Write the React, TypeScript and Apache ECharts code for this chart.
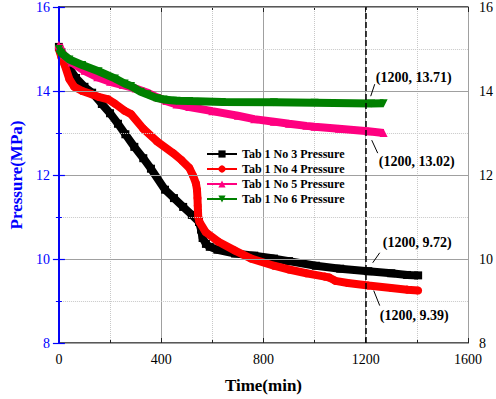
import React, { useEffect, useRef } from "react";
import * as echarts from "echarts";

const seriesNames = [
  "Tab 1 No 3 Pressure",
  "Tab 1 No 4 Pressure",
  "Tab 1 No 5 Pressure",
  "Tab 1 No 6 Pressure",
];
const seriesColors = ["#000000", "#ff0000", "#ff0080", "#008000"];
const seriesSymbols = ["rect", "circle", "triangle", "path://M0,0 L10,0 L5,9 Z"];

const no3Time = [0, 10, 20, 40, 67, 100, 130, 168, 200, 231, 260, 295, 330, 360, 415, 450, 486, 520, 548, 556, 562, 575, 590, 620, 689, 764, 841, 900, 1005, 1100, 1210, 1300, 1362, 1405];
const no3Pressure = [15.05, 14.92, 14.75, 14.55, 14.31, 14.1, 13.96, 13.69, 13.47, 13.22, 12.97, 12.67, 12.4, 12.15, 11.65, 11.45, 11.24, 11.05, 10.88, 10.7, 10.5, 10.36, 10.29, 10.22, 10.13, 10.08, 10.01, 9.95, 9.84, 9.77, 9.71, 9.66, 9.62, 9.61];

const no4Time = [0, 3, 10, 22, 41, 60, 91, 130, 155, 193, 219, 257, 282, 330, 384, 447, 480, 510, 525, 536, 540, 542, 543, 544, 545, 550, 574, 624, 689, 752, 841, 900, 968, 1040, 1057, 1081, 1130, 1210, 1300, 1362, 1405];
const no4Pressure = [15.02, 14.94, 14.8, 14.63, 14.28, 14.1, 14.0, 13.92, 13.86, 13.8, 13.7, 13.53, 13.45, 13.1, 12.8, 12.52, 12.35, 12.17, 11.98, 11.8, 11.65, 11.45, 11.27, 11.14, 11.0, 10.88, 10.64, 10.41, 10.2, 10.01, 9.84, 9.75, 9.66, 9.58, 9.56, 9.48, 9.43, 9.37, 9.31, 9.27, 9.25];

const no5Time = [0, 10, 20, 50, 100, 150, 200, 250, 300, 350, 384, 420, 460, 510, 600, 700, 764, 841, 900, 968, 1000, 1095, 1210, 1270];
const no5Pressure = [15.1, 14.95, 14.85, 14.68, 14.48, 14.33, 14.22, 14.14, 14.06, 13.95, 13.85, 13.76, 13.68, 13.62, 13.52, 13.41, 13.33, 13.27, 13.22, 13.17, 13.15, 13.1, 13.04, 13.0];

const no6Time = [0, 10, 41, 91, 155, 219, 257, 282, 320, 345, 384, 409, 460, 510, 638, 841, 1000, 1221, 1270];
const no6Pressure = [15.0, 14.9, 14.75, 14.62, 14.47, 14.3, 14.18, 14.12, 13.98, 13.92, 13.83, 13.8, 13.77, 13.76, 13.74, 13.73, 13.72, 13.7, 13.71];

const timeAxis = { min: 0, max: 1600, interval: 400 };
const pressureAxis = { min: 8, max: 16, interval: 2 };

const markTime = 1200;
const annotationValues = [13.71, 13.02, 9.72, 9.39];

const FONT = "Liberation Serif";

const allTimes = [no3Time, no4Time, no5Time, no6Time];
const allPressures = [no3Pressure, no4Pressure, no5Pressure, no6Pressure];

export default function App() {
  const ref = useRef<HTMLDivElement>(null);
  useEffect(() => {
    if (!ref.current) return;
    const chart = echarts.init(ref.current, null, { renderer: "svg" });
    const series: any[] = seriesNames.map((name, i) => ({
      name,
      type: "line",
      xAxisIndex: 0,
      yAxisIndex: 0,
      data: allTimes[i].map((t, k) => [t, allPressures[i][k]]),
      symbol: seriesSymbols[i],
      symbolSize: 8,
      showSymbol: true,
      color: seriesColors[i],
      itemStyle: { color: seriesColors[i] },
      lineStyle: { color: seriesColors[i], width: 8 },
      z: 3 + i,
    }));
    series[0].markLine = {
      silent: true,
      symbol: "none",
      label: { show: false },
      lineStyle: { color: "#000", type: [6, 3], width: 1.5 },
      data: [{ xAxis: markTime }],
      z: 10,
    };
    const plainLabel = (v: number) => String(v);
    chart.setOption({
      animation: false,
      textStyle: { fontFamily: FONT },
      grid: { left: 49, right: 26, top: 5, bottom: 53 },
      legend: {
        data: seriesNames,
        orient: "vertical",
        left: 206,
        top: 148,
        padding: 0,
        itemWidth: 30,
        itemHeight: 9,
        itemGap: 3,
        lineStyle: { width: 2 },
        textStyle: { fontFamily: FONT, fontWeight: "bold", fontSize: 12, color: "#000" },
      },
      xAxis: [
        {
          type: "value",
          position: "bottom",
          min: timeAxis.min,
          max: timeAxis.max,
          interval: timeAxis.interval,
          name: "Time(min)",
          nameLocation: "middle",
          nameGap: 34,
          nameTextStyle: { fontFamily: FONT, fontWeight: "bold", fontSize: 17, color: "#000" },
          axisLine: { show: true, lineStyle: { color: "#222", width: 1.5 } },
          axisTick: { show: true, inside: true, length: 5, lineStyle: { color: "#222" } },
          minorTick: { show: true, splitNumber: 2, length: 3, lineStyle: { color: "#222" } },
          axisLabel: { fontFamily: FONT, fontSize: 14, color: "#000", margin: 9, formatter: plainLabel },
          splitLine: { show: true, lineStyle: { color: "#a0a0a0", width: 1 } },
          minorSplitLine: { show: true, lineStyle: { color: "#c8c8c8", type: "dotted", width: 1 } },
        },
        {
          type: "value",
          position: "top",
          min: timeAxis.min,
          max: timeAxis.max,
          interval: timeAxis.interval,
          axisLine: { show: true, lineStyle: { color: "#222", width: 1.5 } },
          axisTick: { show: true, inside: true, length: 5, lineStyle: { color: "#222" } },
          minorTick: { show: true, splitNumber: 2, length: 3, lineStyle: { color: "#222" } },
          axisLabel: { show: false },
          splitLine: { show: false },
        },
      ],
      yAxis: [
        {
          type: "value",
          position: "left",
          min: pressureAxis.min,
          max: pressureAxis.max,
          interval: pressureAxis.interval,
          name: "Pressure(MPa)",
          nameLocation: "middle",
          nameGap: 20,
          nameTextStyle: { fontFamily: FONT, fontWeight: "bold", fontSize: 17, color: "#0000ff" },
          axisLine: { show: true, lineStyle: { color: "#0000ff", width: 1.5 } },
          axisTick: { show: true, inside: false, length: 6, lineStyle: { color: "#0000ff", width: 1.2 } },
          minorTick: { show: true, splitNumber: 2, length: 3, lineStyle: { color: "#0000ff" } },
          axisLabel: { fontFamily: FONT, fontSize: 14, color: "#0000ff", margin: 9, formatter: plainLabel },
          splitLine: { show: true, lineStyle: { color: "#a0a0a0", width: 1 } },
          minorSplitLine: { show: true, lineStyle: { color: "#c8c8c8", type: "dotted", width: 1 } },
          z: 5,
        },
        {
          type: "value",
          position: "right",
          min: pressureAxis.min,
          max: pressureAxis.max,
          interval: pressureAxis.interval,
          axisLine: { show: true, lineStyle: { color: "#222", width: 1.5 } },
          axisTick: { show: true, inside: false, length: 6, lineStyle: { color: "#222" } },
          minorTick: { show: true, splitNumber: 2, length: 3, lineStyle: { color: "#222" } },
          axisLabel: { fontFamily: FONT, fontSize: 14, color: "#000", margin: 11, formatter: plainLabel },
          splitLine: { show: false },
        },
        {
          type: "value",
          position: "left",
          min: pressureAxis.min,
          max: pressureAxis.max,
          interval: pressureAxis.interval,
          axisLine: { show: true, lineStyle: { color: "#0000ff", width: 1.5 } },
          axisTick: { show: true, inside: true, length: 6, lineStyle: { color: "#0000ff", width: 1.2 } },
          minorTick: { show: true, splitNumber: 2, length: 3, lineStyle: { color: "#0000ff" } },
          axisLabel: { show: false },
          splitLine: { show: false },
          z: 5,
        },
      ],
      series,
    });

    const offsets = [
      { a: [5, -7], b: [9, -19], t: [10, -26] },
      { a: [6, 8], b: [12, 21], t: [13, 29] },
      { a: [7, -8], b: [14, -18], t: [17, -28] },
      { a: [8, 6], b: [14, 21], t: [14, 31] },
    ];
    const graphic: any[] = [];
    annotationValues.forEach((v, i) => {
      const p = chart.convertToPixel({ xAxisIndex: 0, yAxisIndex: 0 }, [markTime, v]) as number[];
      const o = offsets[i];
      graphic.push({
        type: "line",
        shape: { x1: p[0] + o.a[0], y1: p[1] + o.a[1], x2: p[0] + o.b[0], y2: p[1] + o.b[1] },
        style: { stroke: "#000", lineWidth: 1 },
        z: 20,
      });
      graphic.push({
        type: "text",
        x: p[0] + o.t[0],
        y: p[1] + o.t[1],
        style: {
          text: `(${markTime}, ${v.toFixed(2)})`,
          fontFamily: FONT,
          fontWeight: "bold",
          fontSize: 14,
          fill: "#000",
          align: "left",
          verticalAlign: "middle",
        },
        z: 20,
      });
    });
    chart.setOption({ graphic });

    return () => chart.dispose();
  }, []);
  return (
    <div
      ref={ref}
      style={{ position: "fixed", left: 0, top: 0, width: 496, height: 399, background: "#fff" }}
    />
  );
}
